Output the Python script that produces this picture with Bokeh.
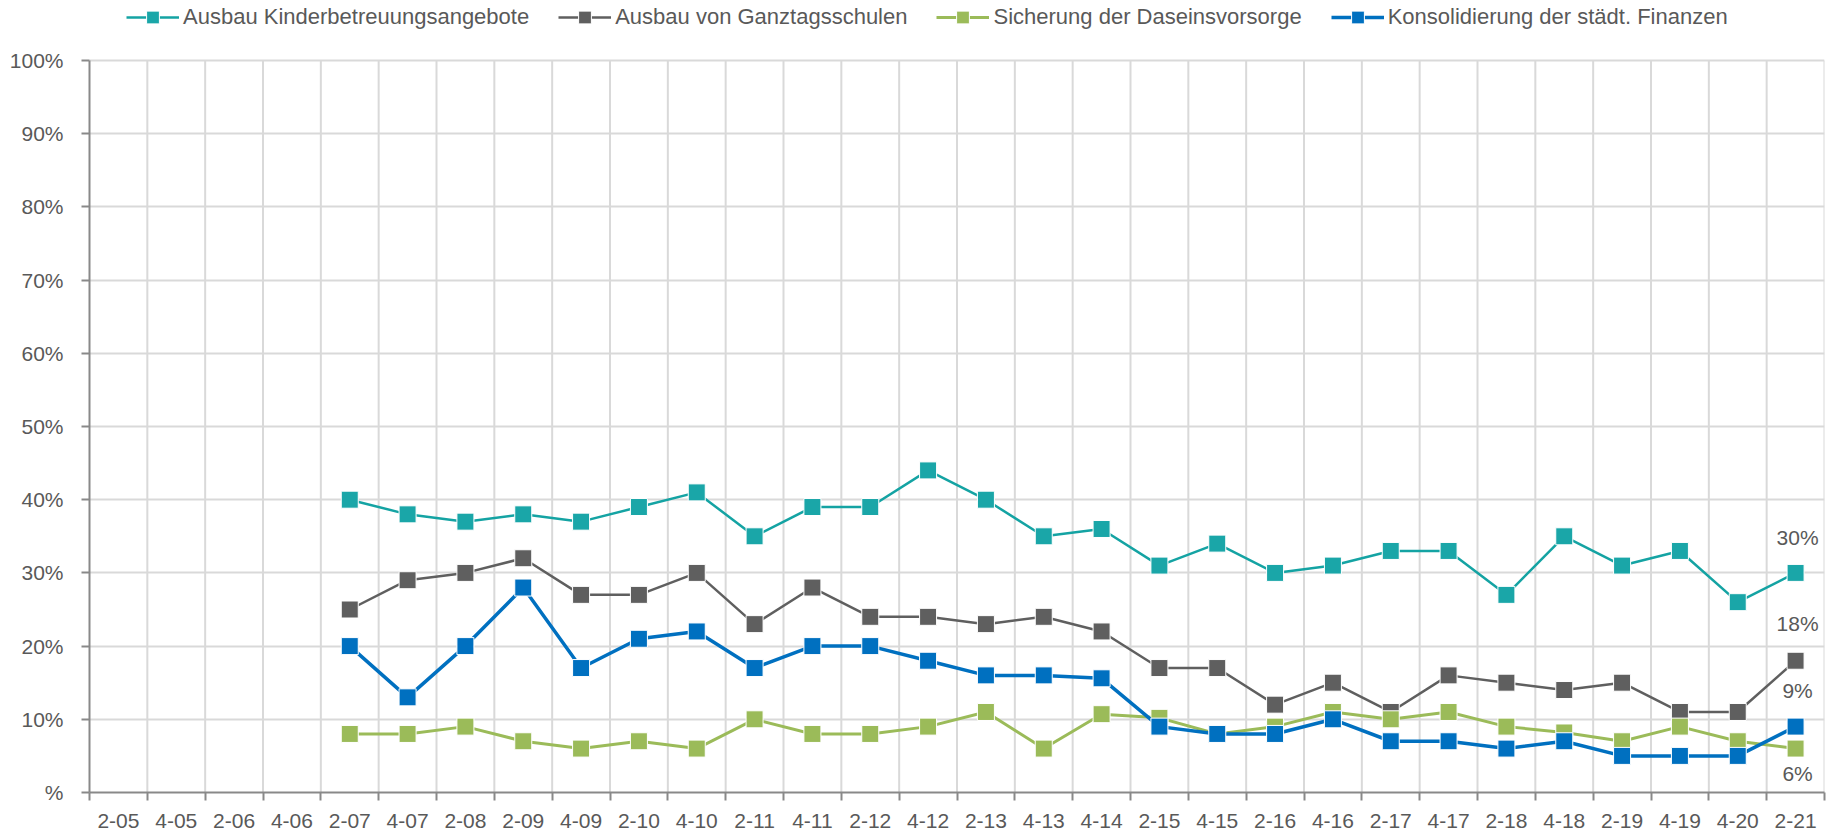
from bokeh.plotting import figure
from bokeh.models import (Range1d, FixedTicker, CustomJSTickFormatter, Legend, LegendItem)
from bokeh.core.properties import value
from bokeh.embed import file_html
from bokeh.resources import INLINE

categories = ["2-05", "4-05", "2-06", "4-06", "2-07", "4-07", "2-08", "2-09", "4-09", "2-10",
              "4-10", "2-11", "4-11", "2-12", "4-12", "2-13", "4-13", "4-14", "2-15", "4-15",
              "2-16", "4-16", "2-17", "4-17", "2-18", "4-18", "2-19", "4-19", "4-20", "2-21"]
survey_periods = categories[4:]

series_names = ["Ausbau Kinderbetreuungsangebote", "Ausbau von Ganztagsschulen",
                "Sicherung der Daseinsvorsorge", "Konsolidierung der städt. Finanzen"]
kinderbetreuung = [40, 38, 37, 38, 37, 39, 41, 35, 39, 39, 44, 40, 35, 36, 31, 34, 30, 31, 33, 33, 27, 35, 31, 33, 26, 30]
ganztagsschulen = [25, 29, 30, 32, 27, 27, 30, 23, 28, 24, 24, 23, 24, 22, 17, 17, 12, 15, 11, 16, 15, 14, 15, 11, 11, 18]
daseinsvorsorge = [8, 8, 9, 7, 6, 7, 6, 10, 8, 8, 9, 11, 6, 10.7, 10.2, 8, 9, 11, 10, 11, 9, 8.2, 7, 9, 7, 6]
finanzen = [20, 13, 20, 28, 17, 21, 22, 17, 20, 20, 18, 16, 16, 15.6, 9, 8, 8, 10, 7, 7, 6, 7, 5, 5, 5, 9]
end_labels = ["30%", "18%", "6%", "9%"]
y_max = 100

FONT = "Liberation Sans"
TXT = "#595959"

W, H = 1832, 837
BORDER_L, BORDER_R, BORDER_B = 89, 8, 45
TOP_GAP = 60  # space above the 100% line (holds the legend)
frame_h = H - BORDER_B
y_top = y_max * frame_h / (frame_h - TOP_GAP)

p = figure(width=W, height=H, output_backend="svg", toolbar_location=None,
           x_range=Range1d(0, len(categories)), y_range=Range1d(0, y_top),
           min_border_left=BORDER_L, min_border_right=BORDER_R, min_border_top=0,
           min_border_bottom=BORDER_B)
p.outline_line_color = None
p.background_fill_color = "white"

# x axis: labels at category centres, ticks at boundaries
centres = [i + 0.5 for i in range(len(categories))]
bounds = list(range(len(categories) + 1))
p.xaxis.ticker = FixedTicker(ticks=centres, minor_ticks=bounds)
p.xaxis.formatter = CustomJSTickFormatter(args=dict(labels=categories),
                                          code="return labels[Math.floor(tick)];")
p.xaxis.major_tick_line_color = None
p.xaxis.minor_tick_out = 8
p.xaxis.minor_tick_in = 0
p.xaxis.minor_tick_line_color = "#898989"
p.xaxis.minor_tick_line_width = 2
p.xaxis.axis_line_color = "#898989"
p.xaxis.axis_line_width = 2
p.xaxis.major_label_standoff = 13
p.xaxis.major_label_text_font = FONT
p.xaxis.major_label_text_font_size = "21px"
p.xaxis.major_label_text_color = TXT

p.yaxis.ticker = FixedTicker(ticks=list(range(0, y_max + 1, 10)))
p.yaxis.bounds = (0, y_max)
p.yaxis.formatter = CustomJSTickFormatter(code="return tick == 0 ? '%' : tick.toFixed(0) + '%';")
p.yaxis.major_tick_out = 8
p.yaxis.major_tick_in = 0
p.yaxis.minor_tick_line_color = None
p.yaxis.major_tick_line_color = "#898989"
p.yaxis.major_tick_line_width = 2
p.yaxis.axis_line_color = "#898989"
p.yaxis.axis_line_width = 2
p.yaxis.major_label_standoff = 18
p.yaxis.major_label_text_font = FONT
p.yaxis.major_label_text_font_size = "21px"
p.yaxis.major_label_text_color = TXT

# vertical grid lines at category boundaries, only up to 100 %
p.xgrid.grid_line_color = None
vx = bounds[1:]
p.segment(x0=vx, y0=[0] * len(vx), x1=vx, y1=[y_max] * len(vx),
          line_color="#D9D9D9", line_width=2, level="underlay")
p.ygrid.ticker = FixedTicker(ticks=list(range(10, y_max + 1, 10)))
p.ygrid.grid_line_color = "#D9D9D9"
p.ygrid.grid_line_width = 2

xs = [categories.index(c) + 0.5 for c in survey_periods]
all_series = [kinderbetreuung, ganztagsschulen, daseinsvorsorge, finanzen]
line_colors = ["#14A3A3", "#5F5F5F", "#9BBB59", "#0070C0"]
fill_colors = ["#1AA6A8", "#5F5F5F", "#9BBB59", "#0070C0"]
line_widths = [2.5, 2.5, 3, 3.5]
label_offsets = [-35, -37, 25, -36]

items = []
for name, vals, lc, fc, lw in zip(series_names, all_series, line_colors, fill_colors, line_widths):
    r1 = p.line(xs, vals, line_color=lc, line_width=lw)
    r2 = p.scatter(xs, vals, marker="square", size=17, fill_color=fc, line_color="white", line_width=1)
    items.append(LegendItem(label=name, renderers=[r1, r2]))

for vals, lab, off in zip(all_series, end_labels, label_offsets):
    p.text(x=[xs[-1]], y=[vals[-1]], text=[lab], x_offset=2, y_offset=off,
           text_align="center", text_baseline="middle", text_font=value(FONT),
           text_font_size="21px", text_color=TXT)

legend = Legend(items=items, orientation="horizontal", location=(37, frame_h - 33),
                glyph_width=53, glyph_height=32, label_standoff=4, spacing=29,
                padding=0, margin=0, border_line_color=None, background_fill_alpha=0,
                label_text_font=FONT, label_text_font_size="22px", label_text_color=TXT)
p.add_layout(legend, "center")

open("out.html", "w").write(file_html(p, INLINE))
